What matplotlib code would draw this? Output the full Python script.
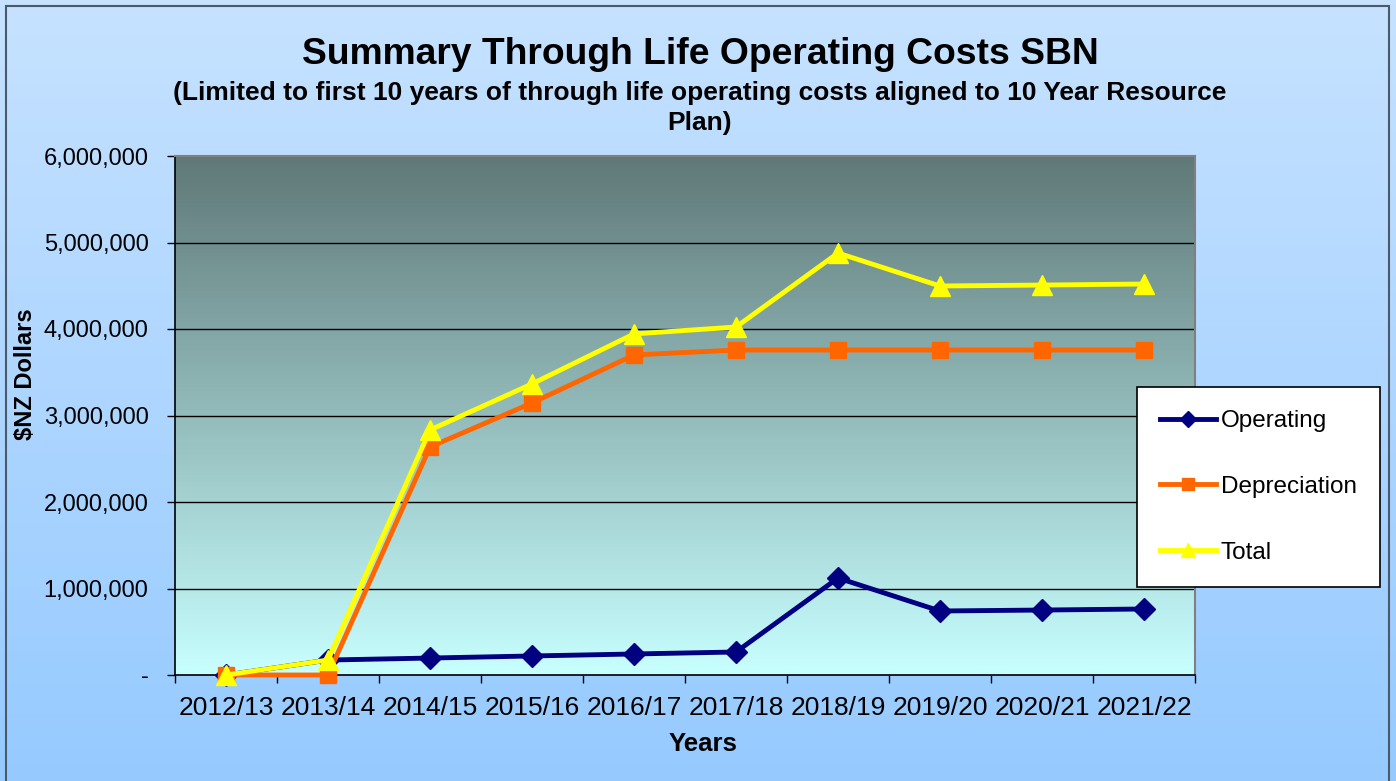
import numpy as np
import matplotlib
matplotlib.use("Agg")
import matplotlib.pyplot as plt
from matplotlib.patches import Rectangle
from matplotlib.lines import Line2D
from matplotlib.ticker import FuncFormatter, FixedLocator

years = ["2012/13", "2013/14", "2014/15", "2015/16", "2016/17",
         "2017/18", "2018/19", "2019/20", "2020/21", "2021/22"]
operating = [0, 173000, 196000, 220000, 243000, 266000, 1121000, 740000, 751000, 763000]
depreciation = [0, 0, 2636000, 3145000, 3700000, 3757000, 3757000, 3757000, 3757000, 3757000]
total = [0, 173000, 2832000, 3365000, 3943000, 4023000, 4878000, 4497000, 4508000, 4520000]
y_ticks = [0, 1000000, 2000000, 3000000, 4000000, 5000000, 6000000]

plt.rcParams['font.family'] = ['Liberation Sans', 'DejaVu Sans']

W, H = 1396, 781
fig = plt.figure(figsize=(W / 100, H / 100), dpi=100)

# figure background gradient
bg = fig.add_axes([0, 0, 1, 1], zorder=-10)
bg.set_axis_off()
top_c = np.array([0xC6, 0xE2, 0xFF]) / 255
bot_c = np.array([0x96, 0xCA, 0xFF]) / 255
t = np.linspace(0, 1, 256)[:, None]
grad = top_c[None, :] * (1 - t[..., None]) + bot_c[None, :] * t[..., None]
grad = np.repeat(grad, 2, axis=1)
bg.imshow(grad, aspect='auto', extent=[0, 1, 0, 1], origin='upper')
bg.set_xlim(0, 1)
bg.set_ylim(0, 1)
bg.add_patch(Rectangle((5.5 / W, -0.01), (1389 - 5.5) / W, 1 - 6 / H + 0.01,
                       fill=False, edgecolor='#4a5a6a', linewidth=1.5))

# main axes
l, r, tp, bt = 175, 1195, 156, 675
ax = fig.add_axes([l / W, 1 - bt / H, (r - l) / W, (bt - tp) / H])
x = np.arange(len(years))
ax.set_xlim(-0.5, len(years) - 0.5)
ax.set_ylim(0, 6000000)

# plot area gradient
ptop = np.array([0x60, 0x78, 0x78]) / 255
pbot = np.array([0xC8, 0xFF, 0xFF]) / 255
pg = ptop[None, :] * (1 - t[..., None]) + pbot[None, :] * t[..., None]
pg = np.repeat(pg, 2, axis=1)
ax.imshow(pg, aspect='auto', extent=[-0.5, len(years) - 0.5, 0, 6000000],
          origin='upper', zorder=0)

for yv in y_ticks[1:-1]:
    ax.axhline(yv, color='black', linewidth=1.0, zorder=1)

ax.plot(x, operating, color='#000080', linewidth=3.5, marker='D', markersize=11,
        zorder=3, solid_joinstyle='round', clip_on=False)
ax.plot(x, depreciation, color='#FF6600', linewidth=3.5, marker='s', markersize=11,
        zorder=4, solid_joinstyle='round', clip_on=False)
ax.plot(x, total, color='#FFFF00', linewidth=3.5, marker='^', markersize=15,
        zorder=5, solid_joinstyle='round', clip_on=False)

ax.spines['top'].set_color('#808080')
ax.spines['right'].set_color('#808080')
ax.spines['top'].set_linewidth(1.5)
ax.spines['right'].set_linewidth(1.5)
ax.spines['left'].set_color('black')
ax.spines['bottom'].set_color('black')
ax.spines['left'].set_linewidth(1.2)
ax.spines['bottom'].set_linewidth(1.2)

ax.yaxis.set_major_locator(FixedLocator(y_ticks))
ax.yaxis.set_major_formatter(FuncFormatter(lambda v, p: '-' if v == 0 else f"{int(v):,}"))
ax.tick_params(axis='y', direction='out', length=6, width=1, labelsize=17, pad=13)

ax.set_xticks(np.arange(-0.5, len(years) + 0.5, 1.0))
ax.set_xticklabels([])
ax.set_xticks(x, minor=True)
ax.set_xticklabels(years, minor=True, fontsize=19)
ax.tick_params(axis='x', which='major', direction='out', length=6, width=1)
ax.tick_params(axis='x', which='minor', length=0, pad=15)

fig.text(25 / W, 1 - 374 / H, '$NZ Dollars', rotation=90, fontsize=17,
         fontweight='bold', ha='center', va='center')
fig.text(703 / W, 1 - 744 / H, 'Years', fontsize=18.5, fontweight='bold',
         ha='center', va='center')

fig.text(700 / W, 1 - 55 / H, 'Summary Through Life Operating Costs SBN',
         fontsize=26.8, fontweight='bold', ha='center', va='center')
fig.text(700 / W, 1 - 108 / H,
         '(Limited to first 10 years of through life operating costs aligned to 10 Year Resource\nPlan)',
         fontsize=19, fontweight='bold', ha='center', va='center', linespacing=1.3)

handles = [
    Line2D([], [], color='#000080', linewidth=3.5, marker='D', markersize=8),
    Line2D([], [], color='#FF6600', linewidth=3.5, marker='s', markersize=9),
    Line2D([], [], color='#FFFF00', linewidth=3.5, marker='^', markersize=10),
]
leg = fig.legend(handles, ['Operating', 'Depreciation', 'Total'],
                 loc='upper left', bbox_to_anchor=(1137 / W, 1 - 387 / H),
                 fontsize=17.5, frameon=True, fancybox=False, edgecolor='black',
                 framealpha=1, labelspacing=1.8, handlelength=2.3,
                 handletextpad=0.2, borderpad=0.95, borderaxespad=0)
leg.get_frame().set_linewidth(1.2)
leg.set_zorder(20)

fig.savefig('out.png', dpi=100)
